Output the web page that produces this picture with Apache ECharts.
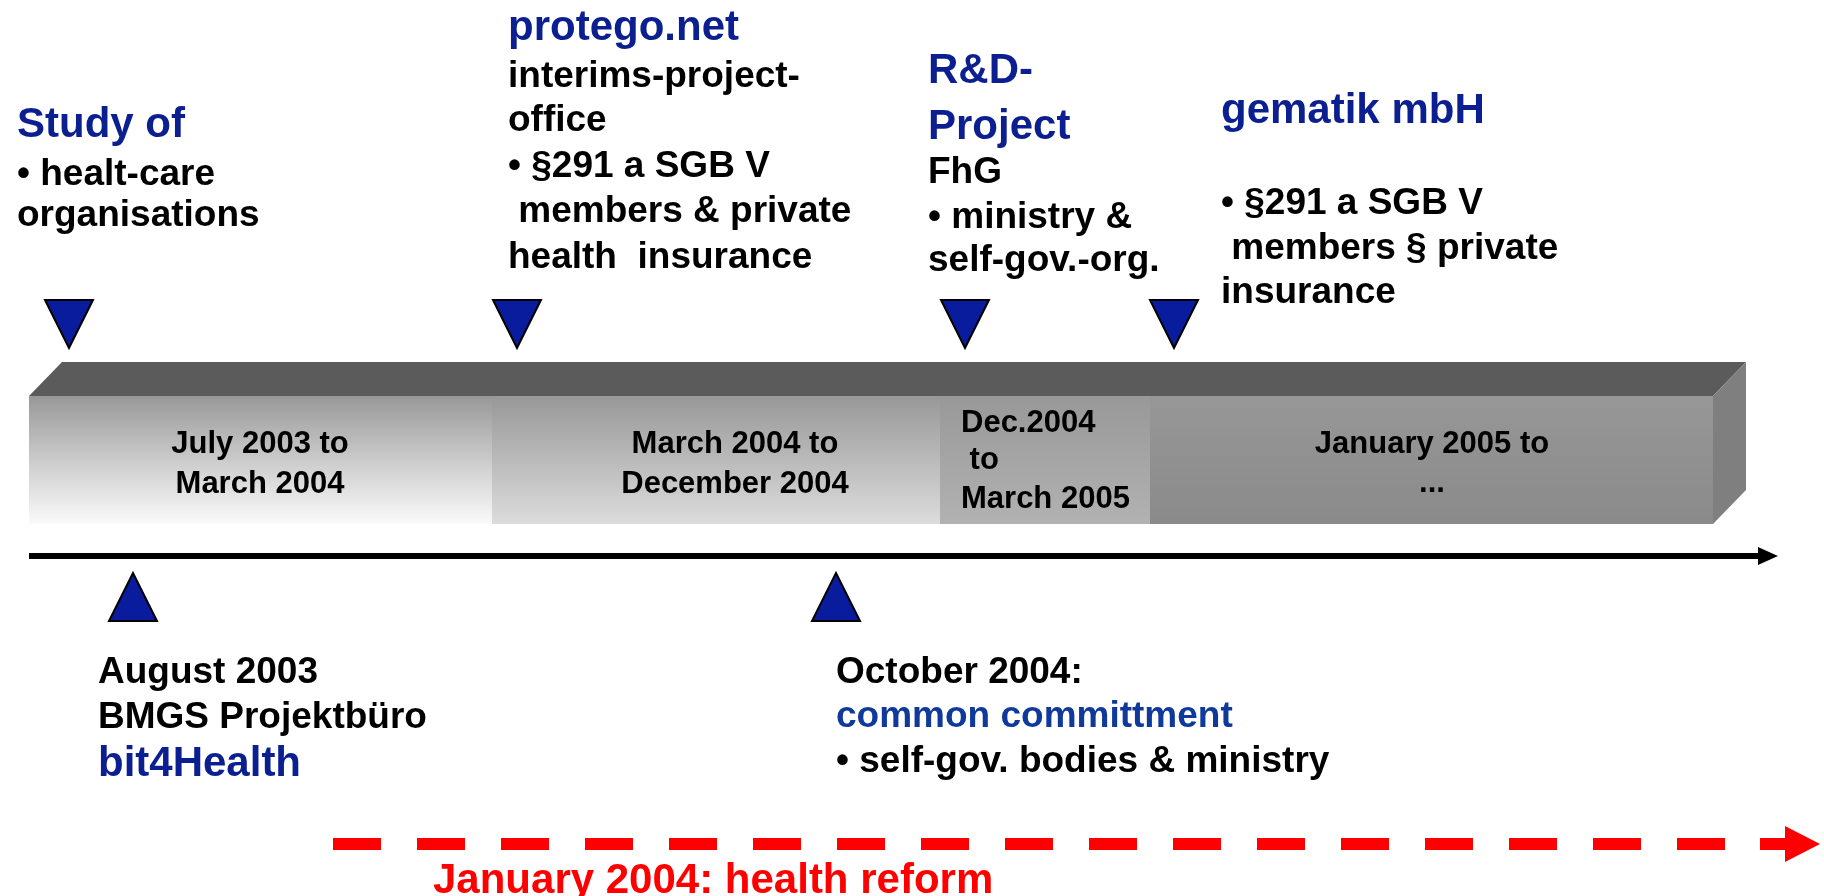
<!DOCTYPE html>
<html style="height: 100%">
<head>
    <meta charset="utf-8">
</head>
<body style="height: 100%; margin: 0; background: #fff">
<div id="container" style="width: 1824px; height: 896px"></div>
<script type="text/javascript" src="https://cdn.jsdelivr.net/npm/echarts@6/dist/echarts.min.js"></script>
<script type="text/javascript">

// phases shown on the bar (positions along the timeline)
var phaseStart = [29, 492, 940, 1150];
var phaseEnd = [492, 940, 1150, 1713];
var phaseText = [
    ['July 2003 to', 'March 2004'],
    ['March 2004 to', 'December 2004'],
    ['Dec.2004', ' to', 'March 2005'],
    ['January 2005 to', '...']
];

// milestone triangles above / below the bar
var markTop = [69, 517, 965, 1174];
var markBottom = [133, 836];

// notes, one array of lines per block
var notes = [
    ['Study of', '• healt-care', 'organisations'],
    ['protego.net', 'interims-project-', 'office', '• §291 a SGB V', ' members & private', 'health  insurance'],
    ['R&D-', 'Project', 'FhG', '• ministry &', 'self-gov.-org.'],
    ['gematik mbH', '• §291 a SGB V', ' members § private', 'insurance'],
    ['August 2003', 'BMGS Projektbüro', 'bit4Health'],
    ['October 2004:', 'common committment', '• self-gov. bodies & ministry'],
    ['January 2004: health reform']
];
// h = blue heading, b = black, c = blue text, r = red
var noteKinds = [
    ['h', 'b', 'b'],
    ['h', 'b', 'b', 'b', 'b', 'b'],
    ['h', 'h', 'b', 'b', 'b'],
    ['h', 'b', 'b', 'b'],
    ['b', 'b', 'h'],
    ['b', 'c', 'b'],
    ['r']
];

// ---- layout ----
var noteLeft = [17, 508, 928, 1221, 98, 836, 433];
var noteBase = [
    [137, 185, 226],
    [40, 87, 131, 177, 222, 268],
    [83, 139, 183, 228, 271],
    [123, 214, 259, 303],
    [683, 728, 776],
    [683, 727, 772],
    [893]
];
var phaseLabelX = [260, 735, 961, 1432];
var phaseAlign = ['center', 'center', 'left', 'center'];
var phaseBase = [[453, 493], [453, 493], [432, 469, 508], [453, 492]];

var BAR_TOP = 396, BAR_BOTTOM = 524, DX = 33, DY = 34;
var LINE_Y = 556, RED_Y = 844;
var FONT = '"Liberation Sans", Arial, Helvetica, sans-serif';
var kindStyle = {
    h: {size: 42, color: '#0c1f91'},
    b: {size: 37, color: '#000000'},
    c: {size: 37, color: '#0f3a9c'},
    r: {size: 42, color: '#ff0000'}
};
var phaseFill = [
    [['0', '#989898'], ['0.55', '#d0d0d0'], ['1', '#fafafa']],
    [['0', '#989898'], ['1', '#dcdcdc']],
    [['0', '#989898'], ['1', '#b2b2b2']],
    [['0', '#979797'], ['1', '#8a8a8a']]
];

var myChart = echarts.init(document.getElementById('container'));

function grad(stops) {
    return new echarts.graphic.LinearGradient(0, 0, 0, 1, stops.map(function (s) {
        return {offset: +s[0], color: s[1]};
    }));
}

function textEl(x, baseline, text, size, color, align) {
    return {
        type: 'text',
        x: x,
        y: baseline - size * 0.28,
        style: {
            text: text,
            fill: color,
            font: 'bold ' + size + 'px ' + FONT,
            align: align || 'left',
            verticalAlign: 'middle'
        }
    };
}

var noteData = [];
notes.forEach(function (lines, b) {
    lines.forEach(function (t, l) {
        noteData.push([noteLeft[b], noteBase[b][l], b, l]);
    });
});

var option = {
    animation: false,
    backgroundColor: '#ffffff',
    grid: {left: 0, right: 0, top: 0, bottom: 0},
    xAxis: {type: 'value', min: 0, max: 1824, show: false},
    yAxis: {type: 'value', min: 0, max: 896, inverse: true, show: false},
    series: [
        {
            // top and side faces of the 3d bar
            type: 'custom',
            data: [[phaseStart[0], phaseEnd[phaseEnd.length - 1]]],
            renderItem: function (params, api) {
                var a = api.coord([api.value(0), BAR_TOP]);
                var b = api.coord([api.value(1), BAR_TOP]);
                var c = api.coord([api.value(1), BAR_BOTTOM]);
                return {
                    type: 'group',
                    children: [
                        {type: 'polygon', shape: {points: [a, [a[0] + DX, a[1] - DY], [b[0] + DX, b[1] - DY], b]},
                            style: {fill: '#5b5b5b'}},
                        {type: 'polygon', shape: {points: [b, [b[0] + DX, b[1] - DY], [c[0] + DX, c[1] - DY], c]},
                            style: {fill: '#7f7f7f'}}
                    ]
                };
            }
        },
        {
            // front faces of the phases
            type: 'custom',
            data: phaseStart.map(function (s, i) { return [s, phaseEnd[i], i]; }),
            renderItem: function (params, api) {
                var i = api.value(2);
                var p0 = api.coord([api.value(0), BAR_TOP]);
                var p1 = api.coord([api.value(1), BAR_BOTTOM]);
                var children = [{
                    type: 'rect',
                    shape: {x: p0[0], y: p0[1], width: p1[0] - p0[0], height: p1[1] - p0[1]},
                    style: {fill: grad(phaseFill[i])}
                }];
                phaseText[i].forEach(function (t, l) {
                    var p = api.coord([phaseLabelX[i], phaseBase[i][l]]);
                    children.push(textEl(p[0], p[1], t, 31, '#000', phaseAlign[i]));
                });
                return {type: 'group', children: children};
            }
        },
        {
            // time axis arrow
            type: 'custom',
            data: [[phaseStart[0], 1778]],
            renderItem: function (params, api) {
                var a = api.coord([api.value(0), LINE_Y]);
                var t = api.coord([api.value(1), LINE_Y]);
                return {
                    type: 'group',
                    children: [
                        {type: 'line', shape: {x1: a[0], y1: a[1], x2: t[0] - 18, y2: t[1]},
                            style: {stroke: '#000', lineWidth: 6}},
                        {type: 'polygon', shape: {points: [[t[0] - 20, t[1] - 9], [t[0], t[1]], [t[0] - 20, t[1] + 9]]},
                            style: {fill: '#000'}}
                    ]
                };
            }
        },
        {
            // health reform dashed arrow
            type: 'custom',
            data: [[333, 1820]],
            renderItem: function (params, api) {
                var a = api.coord([api.value(0), RED_Y]);
                var t = api.coord([api.value(1), RED_Y]);
                return {
                    type: 'group',
                    children: [
                        {type: 'line', shape: {x1: a[0], y1: a[1], x2: t[0] - 60, y2: t[1]},
                            style: {stroke: '#ff0000', lineWidth: 12, lineDash: [48, 36], lineCap: 'butt'}},
                        {type: 'polygon', shape: {points: [
                            [t[0] - 60, t[1] - 6], [t[0] - 35, t[1] - 6], [t[0] - 35, t[1] - 18],
                            [t[0], t[1]],
                            [t[0] - 35, t[1] + 18], [t[0] - 35, t[1] + 6], [t[0] - 60, t[1] + 6]]},
                            style: {fill: '#ff0000'}}
                    ]
                };
            }
        },
        {
            // milestones above the bar
            type: 'custom',
            data: markTop.map(function (x) { return [x]; }),
            renderItem: function (params, api) {
                var p = api.coord([api.value(0), 300]);
                var q = api.coord([api.value(0), 348]);
                return {
                    type: 'polygon',
                    shape: {points: [[p[0] - 24, p[1]], [p[0] + 24, p[1]], [q[0], q[1]]]},
                    style: {fill: '#0a1c9e', stroke: '#000', lineWidth: 2, lineJoin: 'miter'}
                };
            }
        },
        {
            // milestones below the bar
            type: 'custom',
            data: markBottom.map(function (x) { return [x]; }),
            renderItem: function (params, api) {
                var p = api.coord([api.value(0), 621]);
                var q = api.coord([api.value(0), 573]);
                return {
                    type: 'polygon',
                    shape: {points: [[p[0] - 24, p[1]], [p[0] + 24, p[1]], [q[0], q[1]]]},
                    style: {fill: '#0a1c9e', stroke: '#000', lineWidth: 2, lineJoin: 'miter'}
                };
            }
        },
        {
            // note texts
            type: 'custom',
            data: noteData,
            renderItem: function (params, api) {
                var b = api.value(2), l = api.value(3);
                var k = kindStyle[noteKinds[b][l]];
                var p = api.coord([api.value(0), api.value(1)]);
                return textEl(p[0], p[1], notes[b][l], k.size, k.color, 'left');
            }
        }
    ]
};

if (option && typeof option === "object") {
    myChart.setOption(option, true);
}

</script>
</body>
</html>
